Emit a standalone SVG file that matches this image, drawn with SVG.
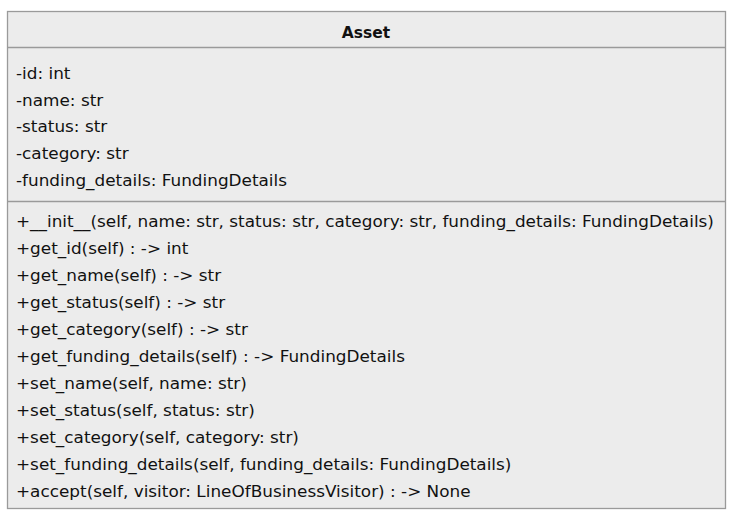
<svg xmlns="http://www.w3.org/2000/svg" width="732" height="518" viewBox="0 0 732 518">
<style>
.box{fill:#ececec;stroke:#9a9a9a;stroke-width:1.3}
.div{stroke:#9a9a9a;stroke-width:1.3}
text{font-family:"DejaVu Sans",Verdana,sans-serif;font-size:16px;fill:#111}
.t{font-weight:bold;text-anchor:middle;font-size:15.5px}
</style>
<rect width="732" height="518" fill="#fff"/>
<g id="Asset">
<rect class="box" x="7.5" y="11.5" width="718" height="497"/>
<line class="div" x1="7.5" y1="47.5" x2="725.5" y2="47.5"/>
<line class="div" x1="7.5" y1="201.5" x2="725.5" y2="201.5"/>
<text class="t" x="366" y="38">Asset</text>
<g transform="translate(16 0) scale(1.054 1)">
<text x="0" y="79">-id: int</text>
<text x="0" y="106">-name: str</text>
<text x="0" y="132">-status: str</text>
<text x="0" y="159">-category: str</text>
<text x="0" y="186">-funding_details: FundingDetails</text>
<text x="0" y="227">+__init__(self, name: str, status: str, category: str, funding_details: FundingDetails)</text>
<text x="0" y="254">+get_id(self) : -&gt; int</text>
<text x="0" y="281">+get_name(self) : -&gt; str</text>
<text x="0" y="308">+get_status(self) : -&gt; str</text>
<text x="0" y="335">+get_category(self) : -&gt; str</text>
<text x="0" y="362">+get_funding_details(self) : -&gt; FundingDetails</text>
<text x="0" y="389">+set_name(self, name: str)</text>
<text x="0" y="416">+set_status(self, status: str)</text>
<text x="0" y="443">+set_category(self, category: str)</text>
<text x="0" y="470">+set_funding_details(self, funding_details: FundingDetails)</text>
<text x="0" y="497">+accept(self, visitor: LineOfBusinessVisitor) : -&gt; None</text>
</g>
</g>
</svg>
